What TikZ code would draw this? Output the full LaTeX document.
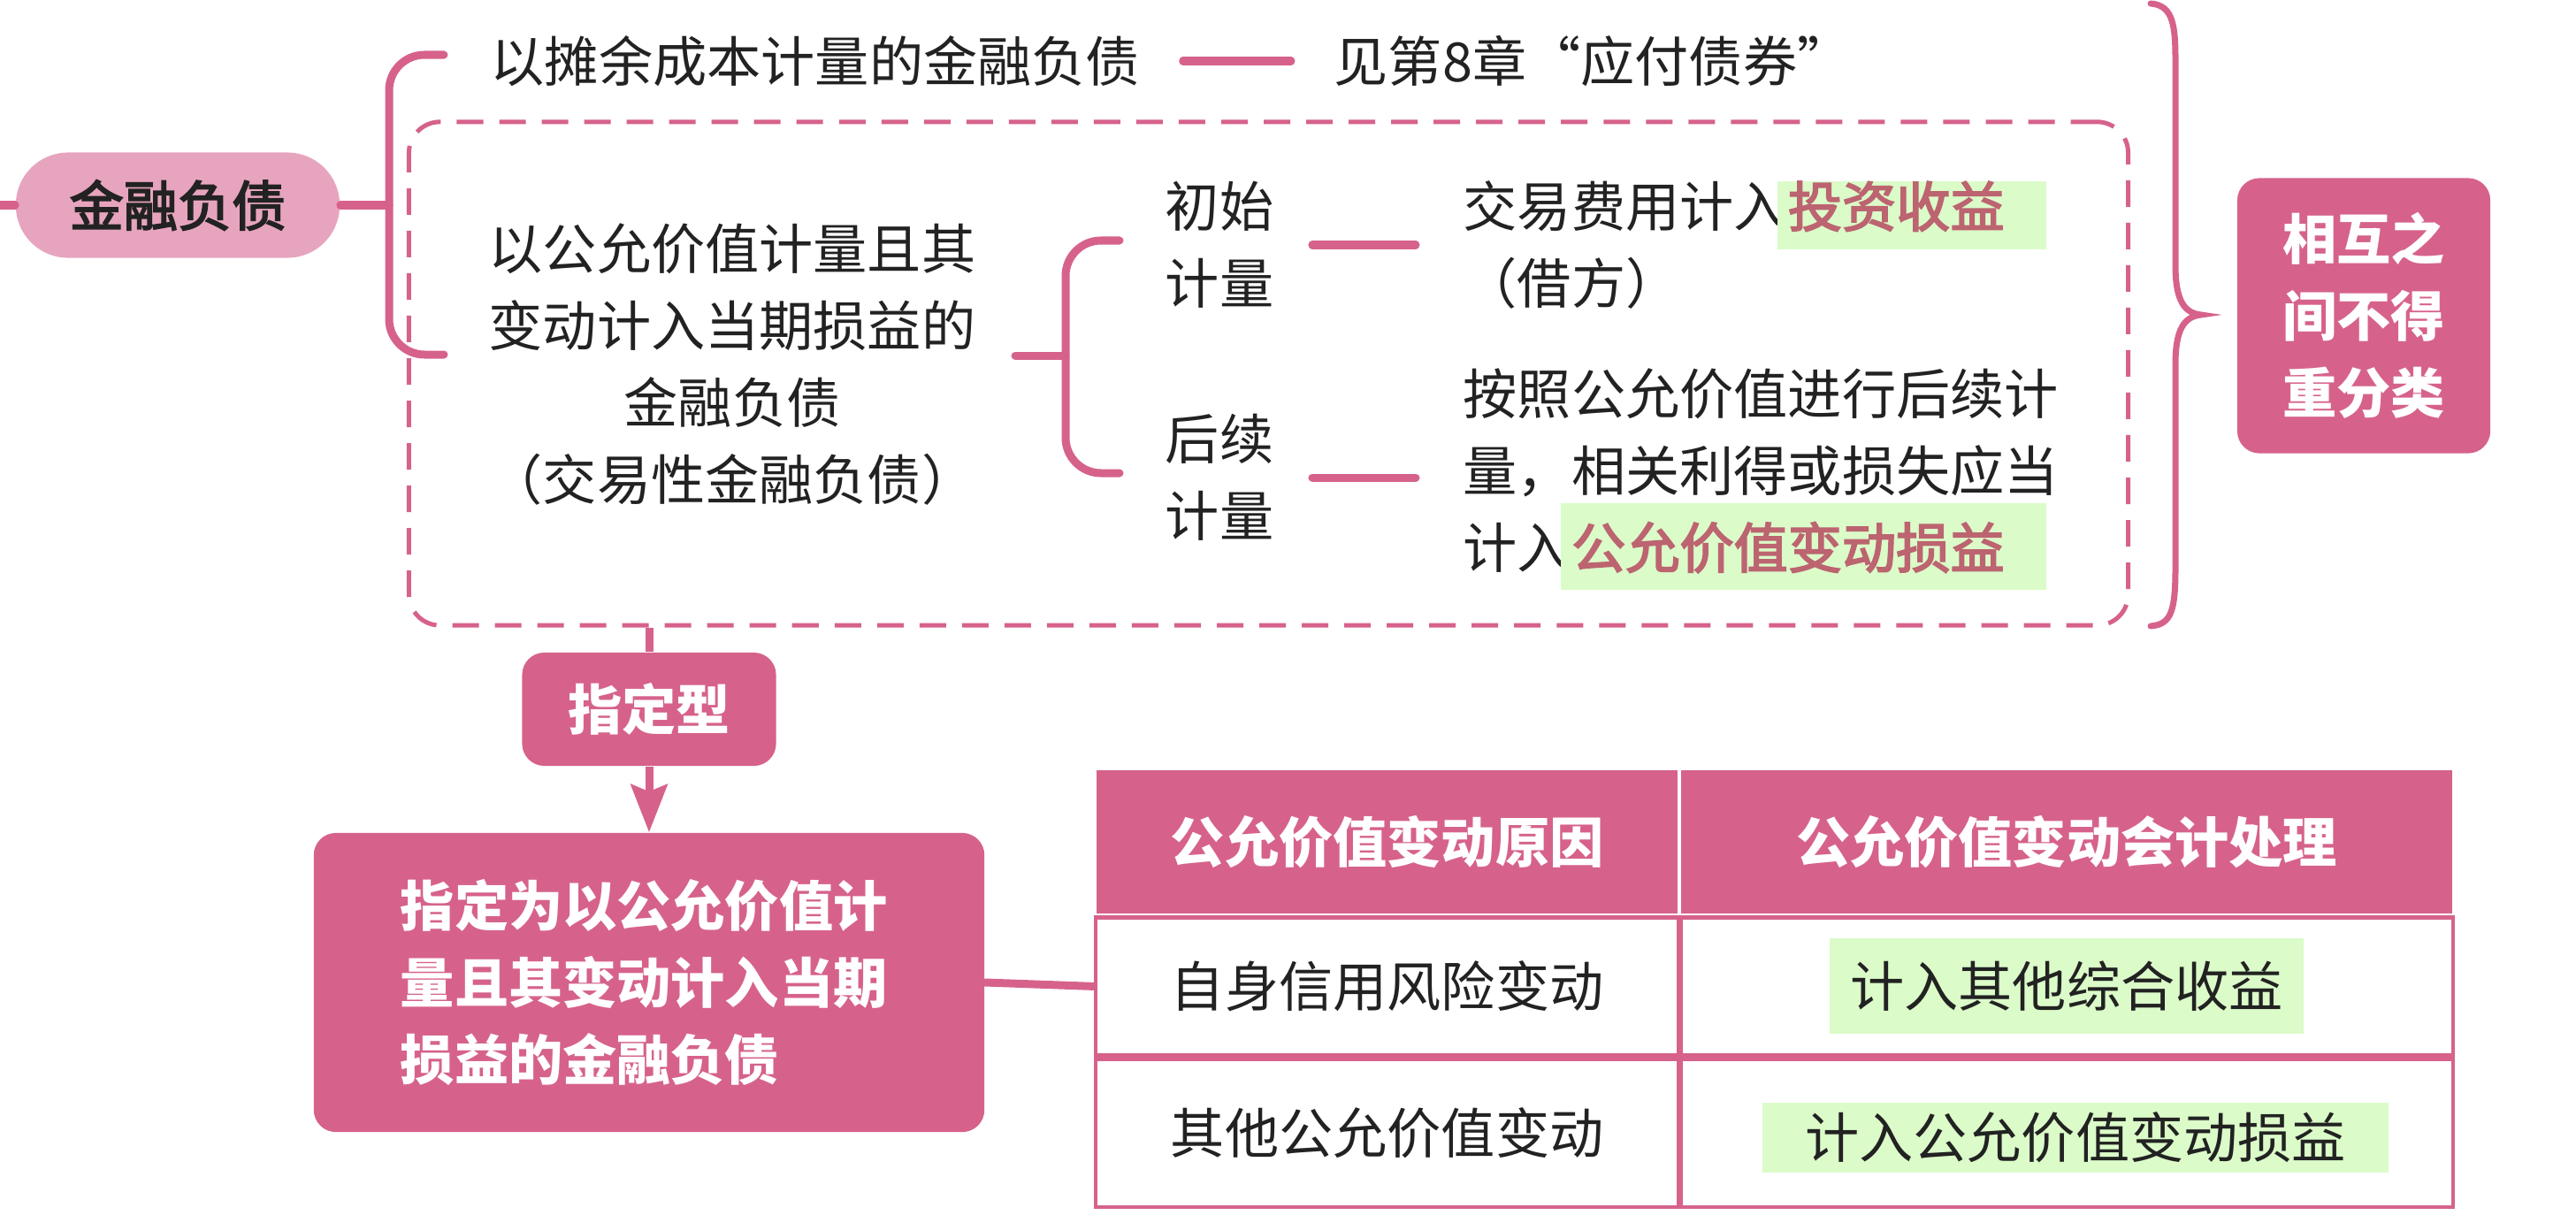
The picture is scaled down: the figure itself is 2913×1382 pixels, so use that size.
\documentclass[tikz,border=0pt]{standalone}
\usepackage{fontspec}
\setmainfont{Noto Sans CJK SC}
\newfontfamily\semibold{Noto Sans CJK SC}[FakeBold=3]
\usepackage{tikz}
\usetikzlibrary{arrows.meta,positioning,calc}
\definecolor{rosa}{HTML}{D6628C}
\definecolor{rosalight}{HTML}{E7A4BE}
\definecolor{hlgreen}{HTML}{DBFBC9}
\definecolor{hlred}{HTML}{BC6470}
\definecolor{ink}{HTML}{222222}
% green marker behind a few words
\newcommand{\hlmark}[2][0.83em]{\kern-0.2em{\setlength{\fboxsep}{0pt}\colorbox{hlgreen}{\rule[-0.41em]{0pt}{\dimexpr#1+0.41em\relax}\hspace{0.2em}\color{hlred}\semibold#2\hspace{0.78em}}}}

\begin{document}
\begin{tikzpicture}[x=0.01cm, y=-0.01cm,
    every node/.style={font=\fontsize{17.4pt}{24.75pt}\selectfont, text=ink, inner sep=0pt},
    link/.style={draw=rosa, line width=0.09cm, line cap=round},
    rootpill/.style={fill=rosalight, rounded corners=0.59cm, minimum width=3.66cm, minimum height=1.19cm, font=\fontsize{17.4pt}{24.75pt}\selectfont\semibold},
    darkbox/.style={fill=rosa, rounded corners=0.25cm, text=white, font=\fontsize{17.4pt}{24.75pt}\selectfont\bfseries},
    headcell/.style={fill=rosa, draw=white, line width=0.02cm, text=white, font=\fontsize{17.4pt}{24.75pt}\selectfont\bfseries, minimum height=1.64cm},
    bodycell/.style={draw=rosa, line width=0.045cm}]
  \useasboundingbox (0,0) rectangle (2913,1382);

  % dashed frame round the fair value branch
  \node[draw=rosa, dash pattern=on 0.3cm off 0.18cm, line width=0.05cm, rounded corners=0.35cm,
        minimum width=19.43cm, minimum height=5.69cm] (fvbox) at (1434.5,422.5) {};

  % root
  \node[rootpill] (fin) at (201,232) {金融负债};
  \coordinate (stub) at (0,232);
  \draw[link] (stub) -- (fin.west);

  % first bracket
  \coordinate (b1) at (440,232);
  \coordinate (b1t) at (502,62);
  \coordinate (b1b) at (502,401);
  \draw[link] (fin.east) -- (b1);
  \draw[link, rounded corners=0.4cm] (b1t) -| (b1) |- (b1b);

  \node[anchor=west] (amort) at (554,69) {以摊余成本计量的金融负债};
  \node[anchor=west] (bond) at (1508,69) {见第8章“应付债券”};
  \draw[link, shorten <=0.48cm, shorten >=0.48cm] (amort.east) -- (bond.west);

  % fair value branch
  \node[align=center] (fv) at (828,412) {以公允价值计量且其\\变动计入当期损益的\\金融负债\\（交易性金融负债）};
  \coordinate (b2) at (1205,402);
  \coordinate (b2s) at (1148,402);
  \coordinate (b2t) at (1266,272);
  \coordinate (b2b) at (1266,535);
  \draw[link] (b2s) -- (b2);
  \draw[link, rounded corners=0.4cm] (b2t) -| (b2) |- (b2b);

  \node[align=center] (init) at (1379,277) {初始\\计量};
  \node[align=center] (later) at (1379,540) {后续\\计量};
  \node[anchor=west, align=left] (initx) at (1654,277) {交易费用计入\hlmark{投资收益}\\（借方）};
  \node[anchor=west, align=left] (laterx) at (1654,542) {按照公允价值进行后续计\\量，相关利得或损失应当\\计入\hlmark[1.2em]{公允价值变动损益}};
  \draw[link, shorten <=0.43cm, shorten >=0.53cm] (init.east) -- (init.east -| initx.west);
  \draw[link, shorten <=0.43cm, shorten >=0.53cm] (later.east) -- (later.east -| laterx.west);

  % curly brace
  \coordinate (brtop) at (2432,4);
  \coordinate (brtip) at (2489,356);
  \coordinate (brbot) at (2432,708);
  \draw[rosa, line width=0.07cm, line cap=round] (brtop) .. controls (2458,6) and (2460,30) .. (2460,70)
    -- (2460,300) .. controls (2460,340) and (2470,354) .. (brtip)
    .. controls (2470,358) and (2460,372) .. (2460,412)
    -- (2460,640) .. controls (2460,690) and (2456,706) .. (brbot);
  \node[darkbox, minimum width=2.86cm, minimum height=3.11cm, align=center] (keep) at (2673,357) {相互之\\间不得\\重分类};

  % designated
  \node[darkbox, minimum width=2.87cm, minimum height=1.28cm] (desig) at (734,802) {指定型};
  \node[darkbox, minimum width=7.58cm, minimum height=3.38cm, text width=5.62cm, align=left] (big) at (734,1111) {指定为以公允价值计\\量且其变动计入当期\\损益的金融负债};
  \draw[link, line cap=butt] (desig.north |- fvbox.south) -- (desig.north);
  \draw[link, line cap=butt, -{Stealth[length=0.54cm, width=0.41cm, inset=0.08cm]}] (desig.south) -- (big.north);

  % table
  \node[headcell, minimum width=6.59cm, anchor=north west] (h1) at (1238,869) {公允价值变动原因};
  \node[headcell, minimum width=8.73cm, right=0pt of h1] (h2) {公允价值变动会计处理};
  \node[bodycell, minimum width=6.59cm, minimum height=1.56cm, below=0pt of h1] (c11) {自身信用风险变动};
  \node[bodycell, minimum width=8.73cm, minimum height=1.56cm, below=0pt of h2] (c12) {};
  \node[bodycell, minimum width=6.59cm, minimum height=1.67cm, below=0pt of c11] (c21) {其他公允价值变动};
  \node[bodycell, minimum width=8.73cm, minimum height=1.67cm, below=0pt of c12] (c22) {};
  \node[fill=hlgreen, minimum width=5.36cm, minimum height=1.08cm] (oci) at (c12) {计入其他综合收益};
  \node[fill=hlgreen, minimum width=7.08cm, minimum height=0.78cm] (pl) at ($(c22)+(10,5)$) {计入公允价值变动损益};
  \draw[link] (big.east) -- (c11.west);
\end{tikzpicture}
\end{document}
